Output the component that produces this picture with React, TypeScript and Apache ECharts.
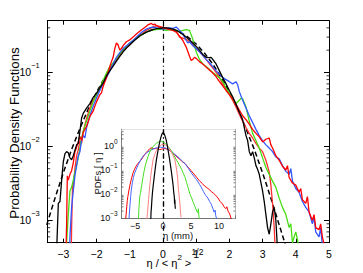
import React, { useEffect, useRef } from 'react';
import * as echarts from 'echarts';

const FONT = '"Liberation Sans", Arial, Helvetica, sans-serif';

// ---------- main panel data: [η/<η²>^½ , PDF] ----------
const redMain: number[][] = [
  [-2.92, 0.0004], [-2.9, 0.0009], [-2.88, 0.004], [-2.85, 0.0035], [-2.8, 0.0042], [-2.75, 0.0047], [-2.7, 0.006],
  [-2.65, 0.0085], [-2.6, 0.0097], [-2.55, 0.0115], [-2.5, 0.0136], [-2.45, 0.012], [-2.4, 0.0155], [-2.3, 0.0186],
  [-2.2, 0.0254], [-2.1, 0.03], [-2.05, 0.035], [-2.0, 0.04], [-1.9, 0.05], [-1.85, 0.053], [-1.8, 0.065], [-1.7, 0.085],
  [-1.6, 0.12], [-1.55, 0.14], [-1.5, 0.16], [-1.45, 0.21], [-1.4, 0.25], [-1.35, 0.235], [-1.3, 0.2], [-1.25, 0.21],
  [-1.2, 0.23], [-1.1, 0.26], [-1.0, 0.275], [-0.9, 0.3], [-0.8, 0.33], [-0.7, 0.36], [-0.6, 0.39], [-0.5, 0.42],
  [-0.45, 0.44], [-0.4, 0.45], [-0.35, 0.46], [-0.3, 0.44], [-0.25, 0.45], [-0.2, 0.43], [-0.1, 0.41], [0, 0.4],
  [0.1, 0.39], [0.2, 0.38], [0.3, 0.37], [0.4, 0.35], [0.5, 0.31], [0.6, 0.27], [0.7, 0.22], [0.8, 0.165],
  [0.85, 0.145], [0.9, 0.15], [0.95, 0.16], [1.0, 0.155], [1.1, 0.14], [1.2, 0.13], [1.3, 0.118], [1.4, 0.108],
  [1.5, 0.098], [1.6, 0.088], [1.7, 0.075], [1.8, 0.066], [1.9, 0.057], [2.0, 0.05], [2.1, 0.044], [2.2, 0.037],
  [2.3, 0.031], [2.4, 0.026], [2.5, 0.023], [2.6, 0.02], [2.7, 0.017], [2.8, 0.015], [2.9, 0.0135], [3.0, 0.0115],
  [3.1, 0.0125], [3.2, 0.013], [3.25, 0.0105], [3.3, 0.0095], [3.4, 0.0075], [3.5, 0.0065], [3.6, 0.0054],
  [3.7, 0.0048], [3.75, 0.0055], [3.8, 0.0038], [3.9, 0.0032], [4.0, 0.003], [4.1, 0.0024], [4.15, 0.0027],
  [4.2, 0.0019], [4.3, 0.0017], [4.35, 0.0021], [4.4, 0.0013], [4.5, 0.001], [4.55, 0.0012], [4.6, 0.0008],
  [4.7, 0.00075], [4.75, 0.0009], [4.8, 0.0006], [4.85, 0.00048], [4.88, 0.0004],
];
const pinkMain: number[][] = [
  [-2.76, 0.0004], [-2.75, 0.0008], [-2.72, 0.003], [-2.7, 0.0028], [-2.65, 0.005], [-2.6, 0.0075], [-2.55, 0.009],
  [-2.5, 0.012], [-2.45, 0.011], [-2.4, 0.016], [-2.3, 0.024], [-2.2, 0.033], [-2.1, 0.042], [-2.0, 0.05],
  [-1.9, 0.062], [-1.8, 0.075], [-1.7, 0.092], [-1.6, 0.11], [-1.5, 0.13], [-1.4, 0.148], [-1.3, 0.17], [-1.2, 0.195],
  [-1.1, 0.215], [-1.0, 0.24], [-0.9, 0.27], [-0.8, 0.29], [-0.7, 0.32], [-0.6, 0.34], [-0.5, 0.37], [-0.4, 0.39],
  [-0.3, 0.41], [-0.2, 0.43], [-0.1, 0.42], [0, 0.405], [0.1, 0.4], [0.2, 0.39], [0.3, 0.38], [0.4, 0.36],
  [0.5, 0.3], [0.6, 0.29], [0.7, 0.28], [0.8, 0.26], [0.9, 0.24], [1.0, 0.21], [1.1, 0.19], [1.2, 0.17],
  [1.3, 0.15], [1.4, 0.13], [1.5, 0.115], [1.6, 0.1], [1.7, 0.085], [1.8, 0.07], [1.9, 0.06], [2.0, 0.05],
  [2.1, 0.042], [2.2, 0.034], [2.3, 0.027], [2.4, 0.022], [2.5, 0.018], [2.6, 0.015], [2.7, 0.013], [2.8, 0.011],
  [2.9, 0.0095], [3.0, 0.0085], [3.1, 0.0065], [3.2, 0.0045], [3.25, 0.003], [3.3, 0.0017], [3.35, 0.0008], [3.38, 0.0004],
];
const blueMain: number[][] = [
  [-2.81, 0.0004], [-2.8, 0.0006], [-2.75, 0.0015], [-2.7, 0.0025], [-2.65, 0.004], [-2.6, 0.0055], [-2.55, 0.0075],
  [-2.5, 0.0085], [-2.45, 0.012], [-2.4, 0.014], [-2.35, 0.013], [-2.3, 0.018], [-2.2, 0.026], [-2.1, 0.035],
  [-2.0, 0.045], [-1.9, 0.057], [-1.8, 0.07], [-1.7, 0.085], [-1.6, 0.105], [-1.5, 0.13], [-1.4, 0.16], [-1.3, 0.185],
  [-1.2, 0.21], [-1.1, 0.23], [-1.0, 0.25], [-0.9, 0.27], [-0.8, 0.3], [-0.7, 0.33], [-0.6, 0.36], [-0.5, 0.385],
  [-0.4, 0.4], [-0.3, 0.41], [-0.2, 0.4], [-0.1, 0.39], [0, 0.385], [0.1, 0.39], [0.2, 0.4], [0.3, 0.395],
  [0.4, 0.41], [0.5, 0.37], [0.6, 0.33], [0.7, 0.27], [0.75, 0.25], [0.8, 0.26], [0.9, 0.23], [1.0, 0.21],
  [1.1, 0.19], [1.2, 0.17], [1.3, 0.15], [1.4, 0.135], [1.5, 0.12], [1.6, 0.105], [1.7, 0.095], [1.8, 0.085],
  [1.9, 0.08], [2.0, 0.075], [2.1, 0.07], [2.2, 0.075], [2.25, 0.068], [2.3, 0.055], [2.4, 0.042], [2.5, 0.033],
  [2.6, 0.026], [2.7, 0.021], [2.8, 0.017], [2.9, 0.014], [3.0, 0.012], [3.1, 0.0105], [3.2, 0.0095], [3.3, 0.0085],
  [3.4, 0.0072], [3.5, 0.0068], [3.6, 0.0055], [3.7, 0.0046], [3.8, 0.0042], [3.85, 0.005], [3.9, 0.0034],
  [4.0, 0.0027], [4.1, 0.0024], [4.2, 0.0018], [4.3, 0.0015], [4.4, 0.0013], [4.5, 0.0009], [4.55, 0.0011],
  [4.6, 0.0007], [4.7, 0.0006], [4.75, 0.0008], [4.8, 0.00045], [4.82, 0.0004],
];
const greenMain: number[][] = [
  [-2.91, 0.0004], [-2.9, 0.0005], [-2.85, 0.0012], [-2.8, 0.0025], [-2.75, 0.0028], [-2.7, 0.0035], [-2.65, 0.0045],
  [-2.6, 0.0055], [-2.55, 0.007], [-2.5, 0.0095], [-2.45, 0.013], [-2.4, 0.016], [-2.3, 0.022], [-2.2, 0.03],
  [-2.1, 0.04], [-2.0, 0.05], [-1.9, 0.062], [-1.8, 0.078], [-1.7, 0.098], [-1.6, 0.12], [-1.5, 0.135], [-1.4, 0.155],
  [-1.3, 0.18], [-1.2, 0.2], [-1.1, 0.225], [-1.0, 0.25], [-0.9, 0.27], [-0.8, 0.29], [-0.7, 0.31], [-0.6, 0.33],
  [-0.5, 0.35], [-0.4, 0.365], [-0.3, 0.375], [-0.2, 0.38], [-0.1, 0.385], [0, 0.38], [0.1, 0.37], [0.2, 0.375],
  [0.3, 0.38], [0.4, 0.37], [0.5, 0.36], [0.6, 0.37], [0.7, 0.38], [0.8, 0.37], [0.9, 0.28], [1.0, 0.19],
  [1.1, 0.15], [1.2, 0.13], [1.3, 0.12], [1.4, 0.11], [1.5, 0.1], [1.6, 0.092], [1.7, 0.085], [1.8, 0.075],
  [1.9, 0.062], [2.0, 0.052], [2.1, 0.044], [2.2, 0.038], [2.3, 0.042], [2.35, 0.045], [2.4, 0.044], [2.5, 0.034],
  [2.6, 0.022], [2.7, 0.015], [2.8, 0.012], [2.9, 0.0095], [3.0, 0.007], [3.1, 0.0052], [3.2, 0.0042], [3.3, 0.0034],
  [3.4, 0.0028], [3.5, 0.002], [3.6, 0.0015], [3.7, 0.0012], [3.8, 0.0008], [3.85, 0.0009], [3.9, 0.0005],
  [3.95, 0.0006], [4.0, 0.0007], [4.05, 0.00055], [4.1, 0.0004],
];
const blackMain: number[][] = [
  [-3.2, 0.0004], [-3.15, 0.0017], [-3.1, 0.0018], [-3.05, 0.0035], [-3.0, 0.0062], [-2.95, 0.008], [-2.9, 0.0085],
  [-2.85, 0.0082], [-2.8, 0.007], [-2.75, 0.0066], [-2.7, 0.0075], [-2.6, 0.0105], [-2.55, 0.011], [-2.5, 0.016],
  [-2.45, 0.024], [-2.4, 0.028], [-2.3, 0.033], [-2.2, 0.038], [-2.1, 0.046], [-2.0, 0.052], [-1.9, 0.062],
  [-1.8, 0.072], [-1.7, 0.09], [-1.6, 0.105], [-1.5, 0.122], [-1.4, 0.142], [-1.3, 0.165], [-1.2, 0.19],
  [-1.1, 0.213], [-1.0, 0.235], [-0.9, 0.26], [-0.8, 0.285], [-0.7, 0.31], [-0.6, 0.33], [-0.5, 0.35], [-0.4, 0.365],
  [-0.3, 0.38], [-0.2, 0.39], [-0.1, 0.395], [0, 0.4], [0.1, 0.4], [0.2, 0.395], [0.3, 0.385], [0.4, 0.37],
  [0.5, 0.35], [0.6, 0.325], [0.7, 0.3], [0.8, 0.275], [0.9, 0.25], [1.0, 0.225], [1.1, 0.2], [1.2, 0.175],
  [1.3, 0.16], [1.4, 0.158], [1.45, 0.16], [1.5, 0.15], [1.6, 0.13], [1.7, 0.105], [1.8, 0.085], [1.9, 0.07],
  [2.0, 0.057], [2.1, 0.047], [2.2, 0.037], [2.3, 0.029], [2.4, 0.023], [2.5, 0.014], [2.55, 0.012], [2.6, 0.0085],
  [2.65, 0.0075], [2.7, 0.0085], [2.75, 0.007], [2.8, 0.0055], [2.85, 0.0049], [2.9, 0.0042], [3.0, 0.0025],
  [3.05, 0.0018], [3.1, 0.0012], [3.15, 0.0008], [3.2, 0.00065], [3.25, 0.0009], [3.3, 0.0013], [3.35, 0.0015],
  [3.4, 0.001], [3.45, 0.0004],
];
const gaussFit: number[][] = [
  [-3.5, 0.00087], [-3.25, 0.002], [-3.0, 0.0044], [-2.75, 0.0091], [-2.5, 0.0175], [-2.25, 0.032], [-2.0, 0.054],
  [-1.75, 0.086], [-1.5, 0.13], [-1.25, 0.183], [-1.0, 0.242], [-0.75, 0.301], [-0.5, 0.352], [-0.25, 0.387],
  [0, 0.399], [0.25, 0.387], [0.5, 0.352], [0.75, 0.301], [1.0, 0.242], [1.25, 0.183], [1.5, 0.13], [1.75, 0.086],
  [2.0, 0.054], [2.25, 0.032], [2.5, 0.0175], [2.75, 0.0091], [3.0, 0.0044], [3.25, 0.002], [3.5, 0.00087],
  [3.7, 0.00045],
];

// ---------- inset data: [η (mm), PDF] ----------
const redInset: number[][] = [
  [-6.7, 0.0009], [-6.6, 0.0015], [-6.5, 0.003], [-6.4, 0.0054], [-6.3, 0.008], [-6.1, 0.015], [-5.95, 0.023],
  [-5.7, 0.04], [-5.4, 0.074], [-5.1, 0.11], [-4.8, 0.15], [-4.5, 0.19], [-4.2, 0.23], [-3.9, 0.27], [-3.6, 0.35],
  [-3.3, 0.45], [-3.0, 0.55], [-2.7, 0.65], [-2.4, 0.78], [-2.1, 0.85], [-1.8, 0.8], [-1.5, 0.78], [-1.2, 0.82],
  [-0.9, 0.76], [-0.6, 0.72], [-0.3, 0.74], [0, 0.78], [0.3, 0.8], [0.7, 0.75], [1.0, 0.7], [1.5, 0.58],
  [2.0, 0.45], [2.5, 0.35], [3.0, 0.28], [3.5, 0.22], [3.9, 0.19], [4.5, 0.13], [5.0, 0.095], [5.5, 0.07],
  [6.0, 0.05], [6.5, 0.036], [7.0, 0.028], [7.4, 0.022], [7.8, 0.019], [8.2, 0.016], [8.6, 0.013], [9.0, 0.011],
  [9.4, 0.009], [9.8, 0.007], [10.2, 0.005], [10.6, 0.004], [10.9, 0.003], [11.2, 0.0025], [11.4, 0.003],
  [11.6, 0.002], [11.9, 0.0015], [12.2, 0.0009],
];
const pinkInset: number[][] = [
  [-2.9, 0.0009], [-2.8, 0.0017], [-2.7, 0.003], [-2.6, 0.006], [-2.5, 0.011], [-2.4, 0.02], [-2.2, 0.06],
  [-2.0, 0.13], [-1.8, 0.27], [-1.5, 0.45], [-1.2, 0.65], [-0.9, 0.85], [-0.6, 1.0], [-0.3, 1.15], [0, 1.2],
  [0.3, 1.15], [0.6, 1.05], [0.9, 0.9], [1.2, 0.75], [1.5, 0.55], [1.8, 0.4], [2.1, 0.27], [2.4, 0.11],
  [2.6, 0.045], [2.7, 0.02], [2.8, 0.012], [2.9, 0.007], [3.0, 0.004], [3.1, 0.002], [3.2, 0.0011],
];
const blueInset: number[][] = [
  [-6.1, 0.0009], [-6.0, 0.002], [-5.9, 0.004], [-5.8, 0.008], [-5.7, 0.014], [-5.5, 0.03], [-5.3, 0.05],
  [-5.1, 0.074], [-4.8, 0.11], [-4.5, 0.16], [-4.2, 0.22], [-3.9, 0.3], [-3.6, 0.37], [-3.3, 0.44], [-3.0, 0.52],
  [-2.5, 0.62], [-2.0, 0.72], [-1.5, 0.8], [-1.0, 0.86], [-0.5, 0.9], [0, 0.88], [0.3, 0.85], [0.6, 0.8],
  [1.0, 0.72], [1.5, 0.6], [2.0, 0.48], [2.5, 0.38], [3.0, 0.3], [3.5, 0.23], [3.9, 0.19], [4.5, 0.12],
  [5.0, 0.08], [5.5, 0.055], [6.0, 0.04], [6.5, 0.026], [6.8, 0.02], [7.2, 0.013], [7.6, 0.009], [8.0, 0.007],
  [8.3, 0.005], [8.6, 0.0039], [8.9, 0.0025], [9.1, 0.0018], [9.3, 0.0022], [9.4, 0.0013], [9.6, 0.0009],
];
const greenInset: number[][] = [
  [-4.4, 0.0009], [-4.35, 0.002], [-4.3, 0.003], [-4.2, 0.007], [-4.1, 0.01], [-4.0, 0.012], [-3.9, 0.02],
  [-3.8, 0.025], [-3.6, 0.05], [-3.4, 0.09], [-3.2, 0.15], [-3.0, 0.22], [-2.7, 0.37], [-2.4, 0.55], [-2.1, 0.75],
  [-1.8, 0.95], [-1.5, 1.15], [-1.2, 1.3], [-0.9, 1.45], [-0.6, 1.55], [-0.3, 1.6], [0, 1.5], [0.3, 1.35],
  [0.6, 1.15], [0.9, 0.95], [1.2, 0.8], [1.5, 0.62], [1.8, 0.48], [2.1, 0.35], [2.4, 0.26], [2.7, 0.2],
  [3.0, 0.15], [3.3, 0.11], [3.6, 0.075], [3.9, 0.053], [4.2, 0.03], [4.5, 0.018], [4.8, 0.01], [5.1, 0.007],
  [5.4, 0.0045], [5.7, 0.003], [6.0, 0.002], [6.2, 0.0017], [6.3, 0.0025], [6.4, 0.0012], [6.5, 0.0009],
];
const blackInset: number[][] = [
  [-2.2, 0.0009], [-2.15, 0.002], [-2.1, 0.0025], [-2.0, 0.006], [-1.9, 0.012], [-1.8, 0.02], [-1.6, 0.05],
  [-1.4, 0.12], [-1.2, 0.27], [-1.0, 0.5], [-0.8, 0.9], [-0.6, 1.5], [-0.4, 2.3], [-0.2, 3.2], [-0.1, 3.6],
  [0, 3.7], [0.1, 3.5], [0.3, 2.8], [0.5, 2.0], [0.7, 1.2], [0.9, 0.65], [1.1, 0.35], [1.3, 0.17], [1.5, 0.08],
  [1.7, 0.035], [1.8, 0.022], [1.9, 0.012], [2.0, 0.008], [2.05, 0.004], [2.1, 0.006], [2.15, 0.003], [2.2, 0.0025],
];

// axis ranges
const mainXRange = [-3.47, 5];
const mainYRange = [0.0005, 0.5];
const insetXRange = [-7.4, 12.9];
const insetYRange = [0.001, 5];
const minorMultipliers = [2, 3, 4, 5, 6, 7, 8, 9];

const minorValues = (lo: number, hi: number) => {
  const out: number[] = [];
  for (let d = -5; d <= 1; d++) {
    for (const m of minorMultipliers) {
      const v = m * Math.pow(10, d);
      if (v > lo && v < hi) out.push(v);
    }
  }
  return out;
};

const isInt = (v: number) => Math.abs(v - Math.round(v)) < 1e-9;
const fmtNum = (v: number) => (v < 0 ? '\u2212' + String(-v) : String(v));
const fmtLinear = (v: number) => (isInt(v) ? fmtNum(Math.round(v)) : '');
const fmtLog = (v: number) => {
  const e = Math.log10(v);
  if (Math.abs(e - Math.round(e)) > 1e-6) return '';
  const r = Math.round(e);
  return '{b|10}{e|' + fmtNum(r) + '}';
};

export default function App() {
  const ref = useRef<HTMLDivElement>(null);
  useEffect(() => {
    if (!ref.current) return;
    const chart = echarts.init(ref.current, undefined, { renderer: 'svg' });

    const lineSeries = (data: number[][], color: string, grid: number, width = 1.3, dashed = false) => ({
      type: 'line',
      data,
      xAxisIndex: grid === 0 ? 0 : 2,
      yAxisIndex: grid === 0 ? 0 : 2,
      showSymbol: false,
      symbol: 'none',
      silent: true,
      lineStyle: { color, width, type: dashed ? [5, 3] : 'solid' },
      z: 3,
    });

    const minorTickSeries = (grid: number, xr: number[], yr: number[], len: number) => ({
      type: 'custom',
      xAxisIndex: grid === 0 ? 0 : 2,
      yAxisIndex: grid === 0 ? 0 : 2,
      silent: true,
      z: 4,
      data: minorValues(yr[0], yr[1]).map((v) => [xr[0], v]),
      renderItem: (_p: any, api: any) => {
        const v = api.value(1);
        const l = api.coord([xr[0], v]);
        const r = api.coord([xr[1], v]);
        const st = { stroke: grid === 0 ? '#000' : '#555', lineWidth: 0.8 };
        return {
          type: 'group',
          children: [
            { type: 'line', shape: { x1: l[0], y1: l[1], x2: l[0] + len, y2: l[1] }, style: st },
            { type: 'line', shape: { x1: r[0], y1: r[1], x2: r[0] - len, y2: r[1] }, style: st },
          ],
        };
      },
    });

    const axisBase = (color: string) => ({
      axisLine: { show: true, onZero: false, lineStyle: { color, width: 1 } },
      splitLine: { show: false },
    });

    const txt = (text: string, x: number, y: number, fontSize: number, align = 'left') => ({
      type: 'text', x, y, silent: true, z: 100,
      style: { text, fontFamily: FONT, fontSize, fill: '#000', align, verticalAlign: 'middle' },
    });

    const option: any = {
      animation: false,
      backgroundColor: '#fff',
      grid: [
        { left: 47.7, top: 20.7, width: 281.3, height: 222, containLabel: false },
        { left: 121.7, top: 129.3, width: 113.6, height: 89, show: true, backgroundColor: '#fff', borderWidth: 0, z: 1 },
      ],
      xAxis: [
        {
          gridIndex: 0, type: 'value', min: mainXRange[0], max: mainXRange[1], splitNumber: 8, position: 'bottom',
          ...axisBase('#000'),
          axisTick: { inside: true, length: 4, lineStyle: { color: '#000' } },
          axisLabel: { formatter: fmtLinear, fontFamily: FONT, fontSize: 10.5, color: '#000', margin: 6, showMinLabel: false },
        },
        {
          gridIndex: 0, type: 'value', min: mainXRange[0], max: mainXRange[1], splitNumber: 8, position: 'top',
          ...axisBase('#000'),
          axisTick: { inside: true, length: 4, lineStyle: { color: '#000' } },
          axisLabel: { show: false },
        },
        {
          gridIndex: 1, type: 'value', min: insetXRange[0], max: insetXRange[1], position: 'bottom',
          ...axisBase('#444'),
          axisTick: { inside: true, length: 3, lineStyle: { color: '#444' } },
          axisLabel: { formatter: fmtLinear, fontFamily: FONT, fontSize: 9, color: '#111', margin: 3 },
        },
        {
          gridIndex: 1, type: 'value', min: insetXRange[0], max: insetXRange[1], position: 'top',
          ...axisBase('#999'),
          axisTick: { inside: true, length: 3, lineStyle: { color: '#888' } },
          axisLabel: { show: false },
        },
      ],
      yAxis: [
        {
          gridIndex: 0, type: 'log', logBase: 10, min: mainYRange[0], max: mainYRange[1], position: 'left',
          ...axisBase('#000'),
          axisTick: { inside: true, length: 5, lineStyle: { color: '#000' } },
          axisLabel: {
            formatter: fmtLog, fontFamily: FONT, color: '#000', margin: 8,
            rich: {
              b: { fontFamily: FONT, fontSize: 10.5, lineHeight: 22, color: '#000' },
              e: { fontFamily: FONT, fontSize: 7.5, lineHeight: 9, verticalAlign: 'top', color: '#000' },
            },
          },
        },
        {
          gridIndex: 0, type: 'log', logBase: 10, min: mainYRange[0], max: mainYRange[1], position: 'right',
          ...axisBase('#000'),
          axisTick: { inside: true, length: 5, lineStyle: { color: '#000' } },
          axisLabel: { show: false },
        },
        {
          gridIndex: 1, type: 'log', logBase: 10, min: insetYRange[0], max: insetYRange[1], position: 'left',
          ...axisBase('#444'),
          axisTick: { inside: true, length: 3, lineStyle: { color: '#444' } },
          axisLabel: {
            formatter: fmtLog, fontFamily: FONT, color: '#111', margin: 4,
            rich: {
              b: { fontFamily: FONT, fontSize: 9, lineHeight: 17, color: '#111' },
              e: { fontFamily: FONT, fontSize: 6.5, lineHeight: 7, verticalAlign: 'top', color: '#111' },
            },
          },
        },
        {
          gridIndex: 1, type: 'log', logBase: 10, min: insetYRange[0], max: insetYRange[1], position: 'right',
          ...axisBase('#999'),
          axisTick: { inside: true, length: 3, lineStyle: { color: '#888' } },
          axisLabel: { show: false },
        },
      ],
      series: [
        {
          ...lineSeries(gaussFit, '#000', 0, 1.5, true),
          markLine: {
            silent: true, symbol: 'none', label: { show: false },
            lineStyle: { color: '#000', width: 1.2, type: [5, 3, 1, 3] },
            data: [{ xAxis: 0 }],
          },
        },
        lineSeries(pinkMain, '#ff3030', 0),
        lineSeries(greenMain, '#44dd11', 0),
        lineSeries(blueMain, '#3355ff', 0),
        lineSeries(redMain, '#ff0000', 0),
        lineSeries(blackMain, '#000', 0, 1.3),
        minorTickSeries(0, mainXRange, mainYRange, 2.5),
        {
          ...lineSeries(redInset, '#ff0000', 1, 1),
          z: 6,
          markLine: {
            silent: true, symbol: 'none', label: { show: false },
            lineStyle: { color: '#000', width: 1.2, type: [5, 3, 1, 3] },
            data: [{ xAxis: 0 }],
          },
        },
        { ...lineSeries(blueInset, '#4466ff', 1, 1), z: 6 },
        { ...lineSeries(greenInset, '#44dd22', 1, 1), z: 6 },
        { ...lineSeries(pinkInset, '#ff8080', 1, 1), z: 6 },
        { ...lineSeries(blackInset, '#000', 1, 1.2), z: 6 },
        { ...minorTickSeries(1, insetXRange, insetYRange, 1.8), z: 7 },
      ],
      graphic: [
        {
          type: 'text', x: 14, y: 133, rotation: Math.PI / 2, silent: true,
          style: {
            text: 'Probability Density Functions', fontFamily: FONT, fontSize: 13.3, fill: '#000',
            align: 'center', verticalAlign: 'middle',
          },
        },
        // x-axis title  η / < η² >^{1/2}
        txt('\u03b7 / < \u03b7', 146.5, 263, 11),
        txt('2', 177.6, 257.5, 8),
        txt(' >', 181.8, 263, 11),
        txt('1/2', 191.6, 252, 8.5),
        {
          type: 'text', x: 178, y: 235, silent: true, z: 100,
          style: { text: '\u03b7 (mm)', fontFamily: FONT, fontSize: 9.5, fill: '#111', align: 'center', verticalAlign: 'middle' },
        },
        {
          type: 'text', x: 97, y: 173.5, rotation: Math.PI / 2, silent: true, z: 100,
          style: { text: 'PDFs [ \u03b7 ]', fontFamily: FONT, fontSize: 9.5, fill: '#111', align: 'center', verticalAlign: 'middle' },
        },
      ],
    };

    chart.setOption(option);
    return () => chart.dispose();
  }, []);

  return (
    <div
      ref={ref}
      style={{ position: 'absolute', left: 0, top: 0, width: 363, height: 273, background: '#fff' }}
    />
  );
}
